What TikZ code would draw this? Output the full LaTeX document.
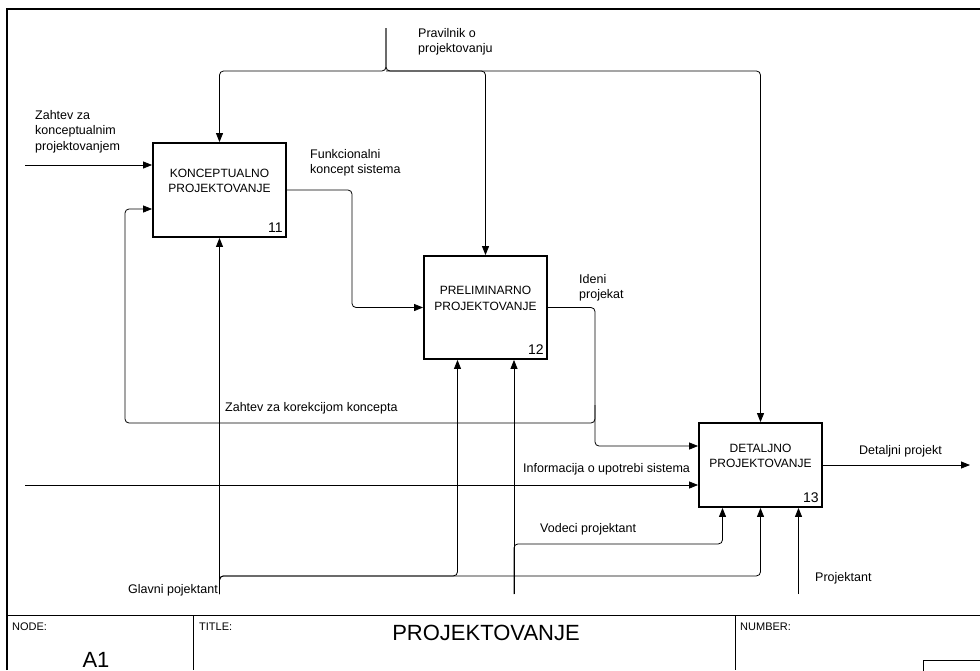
\documentclass[tikz,border=0pt]{standalone}
\usepackage{fontspec}
\setmainfont{Liberation Sans}
\usetikzlibrary{arrows.meta,calc}
\begin{document}
\begin{tikzpicture}[x=1pt,y=-1pt,
  act/.style={draw,line width=1.8pt,fill=white,inner sep=0pt},
  flow/.style={line width=0.8pt,rounded corners=4pt},
  arr/.style={flow,-{Triangle[length=9pt,width=7pt]}},
  lbl/.style={font=\fontsize{12.5}{15.5}\selectfont,align=left,inner sep=0pt,anchor=west},
  btxt/.style={font=\fontsize{12}{15.6}\selectfont,align=center,inner sep=0pt},
  num/.style={font=\fontsize{14}{16}\selectfont,anchor=south east,inner sep=0pt,xshift=-4pt,yshift=5pt},
  frame/.style={line width=1.8pt},
  cell/.style={line width=1pt},
  small/.style={font=\fontsize{11}{13}\selectfont,inner sep=0pt,anchor=west},
  big/.style={font=\fontsize{22}{26}\selectfont,inner sep=0pt}]
\useasboundingbox (0,0) rectangle (980,670);

% activity boxes
\node[act,minimum width=133pt,minimum height=94pt]  (b1) at (219.5,190) {};
\node[act,minimum width=123pt,minimum height=103pt] (b2) at (485.5,307.5) {};
\node[act,minimum width=123pt,minimum height=84pt]  (b3) at (760.5,465) {};

% free ends and bends of the arrows
\coordinate (zin) at (25,165);
\coordinate (pv)  at (386,28);
\coordinate (ctl) at (386,71);
\coordinate (k1)  at (352,250);
\coordinate (k2)  at (595,380);
\coordinate (fb)  at (595,405);
\coordinate (fbL) at (125,423);
\coordinate (inf) at (25,485);
\coordinate (out3) at (970,465);
\coordinate (gp)  at (219.5,594);
\coordinate (m2)  at (514,594);
\coordinate (pj)  at (798.5,594);

% controls
\draw[arr] (pv) -- (ctl) -| (b1.north);
\draw[arr] (pv) -- (ctl) -| (b3.north);
\draw[arr] (ctl) -| (b2.north);

% inputs and outputs
\draw[arr] (zin) -- (zin -| b1.west);
\draw[arr] (b1.east) -| (k1) |- (b2.west);
\draw[arr] (b2.east) -| (k2) |- ($(b3.west)+(0,-19)$);
\draw[arr] (fb) |- (fbL) |- ($(b1.west)+(0,19)$);
\draw[arr] (inf) -- (inf -| b3.west);
\draw[arr] (b3.east) -- (out3);

% mechanisms
\draw[arr] (gp) -- (b1.south);
\draw[arr] (gp) |- ($(b3.south)+(0,68)$) -- (b3.south);
\draw[arr] (gp) |- ($(b2.south)+(-28,216)$) -- ($(b2.south)+(-28,0)$);
\draw[arr] (m2) -- ($(b2.south)+(28.5,0)$);
\draw[arr] (m2) |- ($(b3.south)+(-38,36)$) -- ($(b3.south)+(-38,0)$);
\draw[arr] (pj) -- ($(b3.south)+(38,0)$);

% box texts and numbers
\node[btxt] (t1) at ($(b1.center)+(0,-9)$) {KONCEPTUALNO\\PROJEKTOVANJE};
\node[btxt] (t2) at ($(b2.center)+(0,-9)$) {PRELIMINARNO\\PROJEKTOVANJE};
\node[btxt] (t3) at ($(b3.center)+(0,-9)$) {DETALJNO\\PROJEKTOVANJE};
\node[num] (n1) at (b1.south east) {11};
\node[num] (n2) at (b2.south east) {12};
\node[num] (n3) at (b3.south east) {13};

% arrow labels
\node[lbl] (lpv) at (418,42)  {Pravilnik o\\projektovanju};
\node[lbl] (lzh) at (35,131.5) {Zahtev za\\konceptualnim\\projektovanjem};
\node[lbl] (lfk) at (310,163) {Funkcionalni\\koncept sistema};
\node[lbl] (lid) at (579,288) {Ideni\\projekat};
\node[lbl] (lkk) at (225,408) {Zahtev za korekcijom koncepta};
\node[lbl] (lin) at (523,469) {Informacija o upotrebi sistema};
\node[lbl] (lvp) at (540,529) {Vodeci projektant};
\node[lbl] (ldp) at (859,451) {Detaljni projekt};
\node[lbl] (lpj) at (815,578) {Projektant};
\node[lbl,anchor=east] (lgp) at (218,590) {Glavni pojektant};

% sheet frame and title block
\draw[frame] (7,670) -- (7,9) -- (980,9);
\draw[cell] (7,615) -- (980,615);
\draw[cell] (193,615) -- (193,670);
\draw[cell] (735,615) -- (735,670);
\draw[cell] (923,672) -- (923,660) -- (982,660);
\node[small] (hnode)  at (12,627)  {NODE:};
\node[small] (htitle) at (199,627) {TITLE:};
\node[small] (hnum)   at (740,627) {NUMBER:};
\node[big,anchor=base] (vnode) at (96,667) {A1};
\node[big] (vtitle) at (486,633) {PROJEKTOVANJE};
\end{tikzpicture}
\end{document}
